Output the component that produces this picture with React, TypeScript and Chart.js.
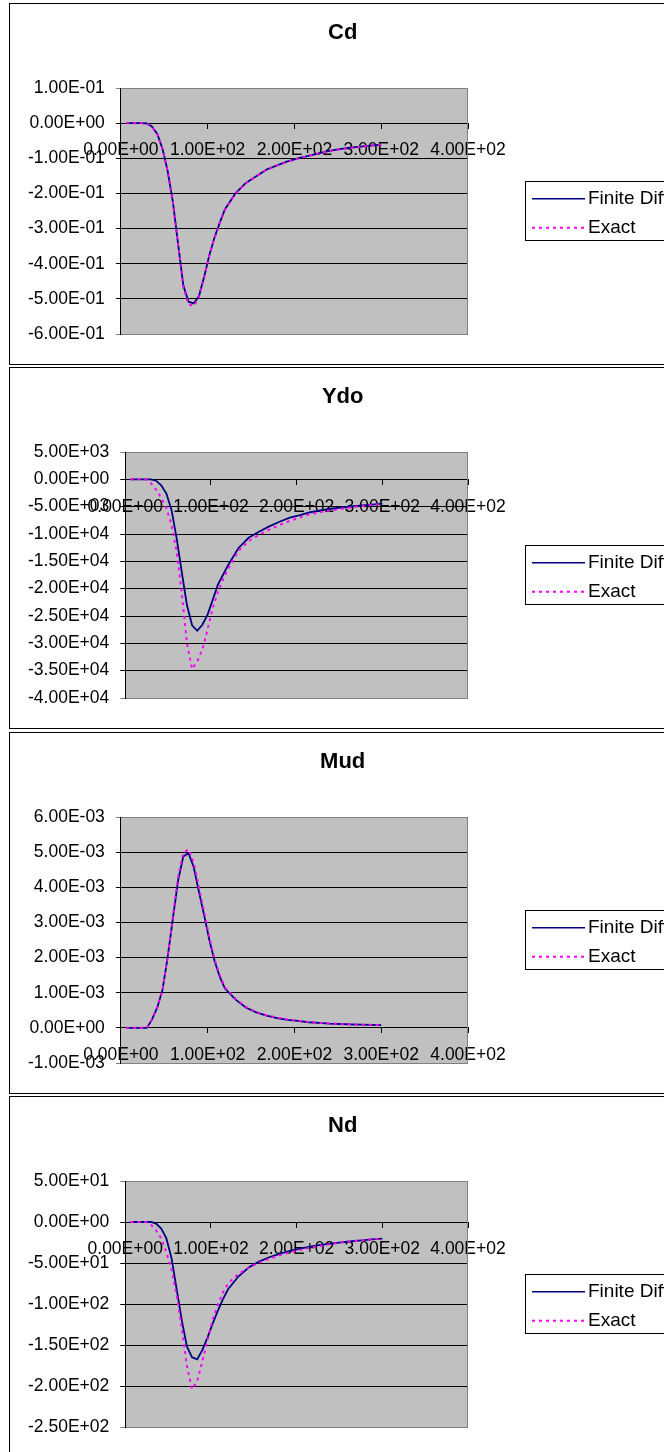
import React, { useEffect, useRef } from "react";
import { Chart, registerables } from "chart.js";

Chart.register(...registerables);
Chart.defaults.font.family = "'Liberation Sans', Arial, sans-serif";

// ---------- data ----------
const X_VALUES = [6, 12, 18, 24, 30, 36, 42, 48, 54, 60, 66, 72, 78, 84, 90, 96, 102, 108, 114, 120, 132, 144, 156, 168, 180, 192, 204, 216, 228, 240, 252, 264, 276, 288, 300];
const SERIES_LABELS = ["Finite Difference", "Exact"];
const PANEL_TITLES = ["Cd", "Ydo", "Mud", "Nd"];
const X_TICK_RANGE = [0, 400, 100];

const CD_FINITE = [0, 0, 0, 0, -0.001, -0.01, -0.031, -0.073, -0.137, -0.225, -0.345, -0.462, -0.508, -0.513, -0.492, -0.437, -0.375, -0.325, -0.283, -0.245, -0.2, -0.17, -0.151, -0.132, -0.12, -0.109, -0.1, -0.093, -0.086, -0.079, -0.074, -0.07, -0.067, -0.064, -0.061];
const CD_EXACT = [0, 0, 0, 0, -0.002, -0.011, -0.032, -0.074, -0.139, -0.228, -0.348, -0.467, -0.516, -0.52, -0.496, -0.439, -0.376, -0.326, -0.284, -0.246, -0.201, -0.171, -0.152, -0.133, -0.121, -0.11, -0.101, -0.093, -0.086, -0.08, -0.075, -0.071, -0.067, -0.064, -0.061];
const CD_Y_RANGE = [-0.6, 0.1, 0.1];

const YDO_FINITE = [0, 0, 0, 0, 0, -250, -1100, -2600, -5600, -10800, -17000, -23000, -26700, -27700, -26600, -24800, -22100, -19300, -17500, -15700, -12600, -10700, -9580, -8600, -7760, -7000, -6550, -6020, -5700, -5380, -5150, -4950, -4780, -4620, -4450];
const YDO_EXACT = [0, 0, 0, 0, -700, -1900, -3400, -5300, -8300, -13300, -20800, -30000, -34700, -33300, -31100, -27500, -23600, -20700, -18400, -16400, -13100, -11300, -10150, -9200, -8350, -7600, -6950, -6350, -6000, -5700, -5400, -5130, -4900, -4680, -4460];
const YDO_Y_RANGE = [-40000, 5000, 5000];

const MUD_FINITE = [0, 0, 0, 0, 0, 0.00024, 0.00058, 0.00108, 0.00202, 0.00312, 0.0042, 0.00488, 0.00497, 0.00457, 0.00387, 0.0032, 0.0025, 0.0019, 0.00145, 0.00112, 0.00081, 0.00058, 0.00044, 0.00035, 0.00028, 0.00023, 0.0002, 0.00016, 0.00014, 0.00012, 0.00011, 0.0001, 0.00009, 0.000085, 0.00008];
const MUD_EXACT = [0, 0, 0, 0, 0, 0.00025, 0.0006, 0.0011, 0.00205, 0.00318, 0.0043, 0.00498, 0.00508, 0.0047, 0.004, 0.0033, 0.00258, 0.00195, 0.0015, 0.00115, 0.00083, 0.0006, 0.00045, 0.00036, 0.00029, 0.00024, 0.0002, 0.00017, 0.00014, 0.00013, 0.00011, 0.0001, 0.00009, 0.000085, 0.00008];
const MUD_Y_RANGE = [-0.001, 0.006, 0.001];

const ND_FINITE = [0, 0, 0, 0, 0, -2, -8, -20, -44, -82, -120, -152, -165, -167.5, -156, -141, -124, -108.5, -94, -82, -66.5, -55.5, -48.3, -43, -39, -35.2, -32.5, -30, -28, -26.3, -24.8, -23.5, -22.3, -21.2, -20.2];
const ND_EXACT = [0, 0, 0, 0, -3.5, -10, -20, -37, -58, -90, -130, -176, -204, -194, -170, -144, -119, -100.5, -86, -75, -63.5, -55.5, -49.6, -45, -40.6, -37, -34, -31.4, -29.2, -26.9, -24.9, -23.5, -22.3, -21.2, -20.2];
const ND_Y_RANGE = [-250, 50, 50];

// ---------- styling ----------
const FONT = "'Liberation Sans', Arial, sans-serif";
const TICK_SIZE = 17.5;
const LEGEND_SIZE = 19;
const CANVAS_W = 666;
const CANVAS_H = 360;

function sci(v: number): string {
  if (Math.abs(v) < 1e-12) return "0.00E+00";
  const [m, e] = v.toExponential(2).split("e");
  const n = Number(e);
  return `${m}E${n < 0 ? "-" : "+"}${String(Math.abs(n)).padStart(2, "0")}`;
}

const decorPlugin = {
  id: "excelDecor",
  beforeDraw(chart: any) {
    const { ctx, chartArea: a } = chart;
    ctx.save();
    ctx.fillStyle = "#C0C0C0";
    ctx.fillRect(a.left, a.top, a.right - a.left, a.bottom - a.top);
    ctx.restore();
  },
  beforeDatasetsDraw(chart: any) {
    const { ctx, chartArea: a } = chart;
    ctx.save();
    ctx.strokeStyle = "#808080";
    ctx.lineWidth = 1;
    const xr = Math.round(a.right) - 0.5;
    ctx.beginPath();
    ctx.moveTo(xr, a.top);
    ctx.lineTo(xr, a.bottom);
    ctx.stroke();
    ctx.restore();
  },
  afterDraw(chart: any, _args: any, opts: any) {
    const { ctx } = chart;
    ctx.save();
    // title
    ctx.fillStyle = "#000";
    ctx.font = `bold 22px ${FONT}`;
    ctx.textAlign = "center";
    ctx.textBaseline = "alphabetic";
    ctx.fillText(opts.title, 332.7, 35);
    // legend box
    ctx.fillStyle = "#fff";
    ctx.fillRect(515.5, 177.5, 300, 59);
    ctx.strokeStyle = "#000";
    ctx.lineWidth = 1;
    ctx.strokeRect(515.5, 177.5, 300, 59);
    // entry 1
    ctx.strokeStyle = "#000080";
    ctx.lineWidth = 1.5;
    ctx.setLineDash([]);
    ctx.beginPath();
    ctx.moveTo(522, 194.7);
    ctx.lineTo(575, 194.7);
    ctx.stroke();
    // entry 2
    ctx.strokeStyle = "#FF00FF";
    ctx.lineWidth = 2;
    ctx.setLineDash([3, 4]);
    ctx.beginPath();
    ctx.moveTo(522, 223.7);
    ctx.lineTo(575, 223.7);
    ctx.stroke();
    ctx.setLineDash([]);
    ctx.fillStyle = "#000";
    ctx.font = `${LEGEND_SIZE}px ${FONT}`;
    ctx.textAlign = "left";
    ctx.fillText(opts.labels[0], 578, 199.5);
    ctx.fillText(opts.labels[1], 578, 228.5);
    ctx.restore();
  },
};

type PanelProps = {
  top: number;
  title: string;
  yRange: number[];
  finite: number[];
  exact: number[];
};

function Panel({ top, title, yRange, finite, exact }: PanelProps) {
  const ref = useRef<HTMLCanvasElement>(null);
  useEffect(() => {
    const [yMin, yMax, yStep] = yRange;
    const [xMin, xMax, xStep] = X_TICK_RANGE;
    const chart = new Chart(ref.current as HTMLCanvasElement, {
      type: "line",
      data: {
        datasets: [
          {
            label: SERIES_LABELS[0],
            data: X_VALUES.map((x, i) => ({ x, y: finite[i] })),
            borderColor: "#000080",
            borderWidth: 1.8,
            pointRadius: 0,
            tension: 0,
            fill: false,
            order: 1,
          },
          {
            label: SERIES_LABELS[1],
            data: X_VALUES.map((x, i) => ({ x, y: exact[i] })),
            borderColor: "#FF00FF",
            borderWidth: 2,
            borderDash: [3, 4],
            pointRadius: 0,
            tension: 0,
            fill: false,
            order: 0,
          },
        ],
      },
      options: {
        responsive: false,
        animation: false,
        layout: { padding: { left: 7, right: 208, top: 84, bottom: 30 } },
        plugins: {
          legend: { display: false },
          tooltip: { enabled: false },
          title: { display: false },
          excelDecor: { title, labels: SERIES_LABELS },
        } as any,
        scales: {
          x: {
            type: "linear",
            position: { y: 0 } as any,
            min: xMin,
            max: xMax,
            ticks: {
              stepSize: xStep,
              autoSkip: false,
              maxRotation: 0,
              minRotation: 0,
              padding: 12,
              color: "#000",
              font: { size: TICK_SIZE, family: FONT },
              callback: (v: any) => sci(Number(v)),
            },
            grid: { drawOnChartArea: false, drawTicks: true, tickLength: 5, color: "#000" },
            border: { display: true, color: "#000", width: 1 },
          },
          y: {
            type: "linear",
            position: "left",
            min: yMin,
            max: yMax,
            ticks: {
              stepSize: yStep,
              autoSkip: false,
              padding: 11,
              color: "#000",
              font: { size: TICK_SIZE, family: FONT },
              callback: (v: any) => sci(Number(v)),
            },
            grid: {
              drawTicks: true,
              tickLength: 5,
              color: (c: any) => {
                const v = c.tick ? c.tick.value : 0;
                if (Math.abs(v - yMax) < yStep * 1e-6 || Math.abs(v - yMin) < yStep * 1e-6) return "#808080";
                return "#000";
              },
              lineWidth: 1,
            },
            border: { display: true, color: "#000", width: 1 },
          },
        },
      },
      plugins: [decorPlugin as any],
    });
    return () => chart.destroy();
  }, []);
  return (
    <div
      style={{
        position: "absolute",
        left: 9,
        top,
        width: CANVAS_W,
        height: CANVAS_H,
        border: "1px solid #000",
        background: "#fff",
      }}
    >
      <canvas ref={ref} width={CANVAS_W} height={CANVAS_H} style={{ display: "block" }} />
    </div>
  );
}

export default function App() {
  return (
    <div
      style={{
        position: "absolute",
        left: 0,
        top: 0,
        width: 664,
        height: 1452,
        overflow: "hidden",
        background: "#fff",
      }}
    >
      <Panel top={3} title={PANEL_TITLES[0]} yRange={CD_Y_RANGE} finite={CD_FINITE} exact={CD_EXACT} />
      <Panel top={367} title={PANEL_TITLES[1]} yRange={YDO_Y_RANGE} finite={YDO_FINITE} exact={YDO_EXACT} />
      <Panel top={732} title={PANEL_TITLES[2]} yRange={MUD_Y_RANGE} finite={MUD_FINITE} exact={MUD_EXACT} />
      <Panel top={1096} title={PANEL_TITLES[3]} yRange={ND_Y_RANGE} finite={ND_FINITE} exact={ND_EXACT} />
    </div>
  );
}
